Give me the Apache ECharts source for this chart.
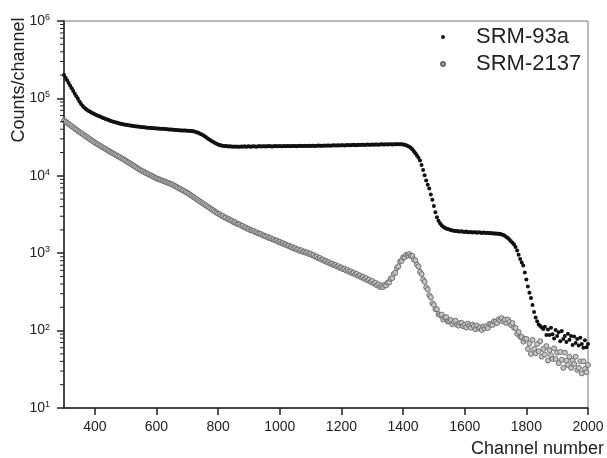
<!DOCTYPE html>
<html><head><meta charset="utf-8">
<script src="https://cdn.jsdelivr.net/npm/echarts@6/dist/echarts.min.js"></script>
<style>html,body{margin:0;padding:0;background:#fff}#c{width:607px;height:458px}</style>
</head><body><div id="c"></div>
<script>
const channelStart = 300, channelStep = 5;
const seriesNames = ['SRM-93a', 'SRM-2137'];
const srm93a = [
200000,185000,171000,158000,146000,135000,125000,115000,107000,98600,91200,85100,80400,76200,73300,71000,68900,67000,65300,63800,
62400,61100,59800,58600,57500,56400,55300,54300,53300,52400,51400,50700,50000,49300,48800,48200,47500,47000,46500,45900,
45500,45200,44900,44600,44300,44000,43700,43400,43200,42900,42700,42500,42300,42100,41900,41700,41600,41400,41200,41100,
40900,40800,40600,40500,40400,40200,40100,39900,39700,39600,39500,39300,39200,39000,38900,38700,38600,38600,38500,38400,
38300,38200,38000,37800,37600,37200,36600,35900,35200,34400,33700,32700,31600,30600,29700,28800,28000,27300,26600,25900,
25400,25000,24700,24400,24300,24200,24000,23900,24100,23800,23900,23700,23900,23800,23700,23900,23800,24000,23800,23900,
24000,23800,23900,24100,23900,23800,24000,24100,23900,24000,24100,23900,24000,24200,24000,23900,24100,24200,24000,24100,
24200,24000,24100,24300,24100,24200,24300,24100,24200,24300,24200,24100,24300,24400,24200,24300,24400,24200,24300,24500,
24300,24400,24500,24300,24400,24600,24500,24400,24500,24600,24500,24600,24700,24500,24600,24800,24600,24700,24800,24700,
24800,24900,24700,24800,25000,24900,24800,25000,25100,24900,25000,25100,25000,25200,25100,25000,25200,25300,25100,25200,
25300,25200,25400,25300,25200,25400,25500,25300,25400,25600,25400,25500,25600,25400,25500,25600,25500,25500,25500,25500,
25400,25100,24800,24300,23800,23000,22000,20800,19500,18300,17100,15800,13800,11900,10200,8710,7670,6840,5750,4900,
4070,3390,2920,2630,2430,2290,2200,2140,2090,2050,2020,1990,1960,1950,1930,1940,1910,1900,1920,1890,
1880,1900,1870,1860,1880,1850,1870,1860,1840,1860,1850,1830,1850,1840,1820,1840,1810,1830,1800,1810,
1790,1800,1770,1780,1750,1720,1680,1620,1570,1500,1430,1360,1300,1200,1080,955,841,759,692,562,
457,372,309,263,214,174,148,132,120,115,110,105,112,88,103,88,109,90,79,102,
85,95,73,99,78,85,71,91,76,85,65,84,69,78,64,81,67,60,75,61,
67];
const srm2137 = [
51900,50100,48400,46800,45200,43700,42200,40700,39400,38100,36900,35800,34700,33600,32500,31600,30500,29600,28600,27800,
26900,26200,25500,24800,24100,23400,22800,22200,21600,21000,20400,19900,19400,18900,18400,17900,17500,17000,16600,16100,
15700,15200,14800,14400,14000,13600,13200,12800,12400,12100,11700,11500,11200,10900,10700,10400,10200,9950,9720,9480,
9270,9100,8950,8790,8630,8470,8340,8180,8040,7910,7760,7570,7380,7190,7010,6840,6670,6500,6340,6180,
6030,5850,5660,5500,5320,5160,5000,4850,4700,4560,4420,4290,4150,4030,3900,3780,3660,3560,3440,3340,
3240,3190,3050,3030,2900,2890,2770,2760,2650,2630,2520,2510,2400,2390,2350,2260,2250,2160,2150,2070,
2060,1980,1970,1940,1870,1860,1800,1790,1760,1690,1690,1640,1630,1570,1570,1510,1510,1460,1460,1400,
1410,1350,1350,1300,1300,1250,1250,1200,1200,1150,1160,1110,1120,1070,1090,1040,1050,1010,1020,975,
985,940,945,900,905,860,868,825,830,790,795,758,765,728,735,700,708,672,680,646,
655,622,630,598,606,574,583,552,561,530,540,508,517,486,495,465,475,445,455,426,
436,405,415,385,395,366,382,366,390,383,418,420,470,478,540,560,648,675,780,795,
880,885,955,930,975,925,920,832,810,712,675,575,537,457,427,362,340,286,270,226,
215,189,189,163,158,161,139,148,149,131,132,137,121,129,134,119,116,125,126,114,
119,110,123,115,109,120,114,104,116,107,110,102,113,107,114,108,122,120,118,132,
130,125,140,135,145,131,138,125,139,129,118,125,109,108,91,96,83,83,72,78,
78,58,68,50,76,58,51,67,54,73,46,58,49,63,41,56,48,43,59,43,
52,38,53,42,33,52,41,36,46,33,41,37,46,31,33,40,28,40,32,29,
36];
const xTickValues = [400, 600, 800, 1000, 1200, 1400, 1600, 1800, 2000];
const yTickValues = [10, 100, 1000, 10000, 100000, 1000000];
const yMinorTicks = [20,30,40,50,60,70,80,90, 200,300,400,500,600,700,800,900,
  2000,3000,4000,5000,6000,7000,8000,9000, 20000,30000,40000,50000,60000,70000,80000,90000,
  200000,300000,400000,500000,600000,700000,800000,900000];

function pairs(vals) { return vals.map((v, i) => [channelStart + i * channelStep, v]); }
const FONT = 'Liberation Sans, Arial, Helvetica, sans-serif';
const AXIS_COLOR = '#222';

function minorTickSeries(name, data, len, width) {
  return {
    name: name, type: 'custom', data: data, clip: false, silent: true, z: 6,
    renderItem: function (params, api) {
      const p = api.coord([api.value(0), api.value(1)]);
      return {type: 'line', shape: {x1: p[0] - len, y1: p[1], x2: p[0], y2: p[1]},
              style: {stroke: AXIS_COLOR, lineWidth: width}};
    }
  };
}

const chart = echarts.init(document.getElementById('c'), null, {renderer: 'canvas'});
chart.setOption({
  animation: false,
  backgroundColor: '#fff',
  grid: {left: 64, right: 19, top: 21, bottom: 50, show: true, borderColor: '#777', borderWidth: 1, backgroundColor: 'transparent'},
  legend: {
    orient: 'vertical', left: 440, top: 26, padding: 0, itemWidth: 4, itemHeight: 4, itemGap: 5,
    data: seriesNames,
    textStyle: {fontFamily: FONT, fontSize: 22, lineHeight: 22, color: '#222', padding: [0, 0, 0, 26]}
  },
  xAxis: {
    type: 'value', min: 300, max: 2000,
    axisLine: {show: true, lineStyle: {color: AXIS_COLOR, width: 1.5}},
    axisTick: {show: true, length: 7, customValues: xTickValues, lineStyle: {color: AXIS_COLOR, width: 1.5}},
    axisLabel: {customValues: xTickValues, margin: 12, fontFamily: FONT, fontSize: 14, color: '#222', formatter: v => String(v)},
    splitLine: {show: false}
  },
  yAxis: {
    type: 'log', logBase: 10, min: 10, max: 1000000,
    axisLine: {show: true, lineStyle: {color: AXIS_COLOR, width: 1.5}},
    axisTick: {show: true, length: 7, lineStyle: {color: AXIS_COLOR, width: 1.5}},
    axisLabel: {
      customValues: yTickValues, margin: 14,
      formatter: v => '{b|10}{s|' + Math.round(Math.log10(v)) + '}',
      rich: {
        b: {fontFamily: FONT, fontSize: 14, lineHeight: 16, color: '#222', verticalAlign: 'middle'},
        s: {fontFamily: FONT, fontSize: 9, lineHeight: 10, color: '#222', verticalAlign: 'top'}
      }
    },
    splitLine: {show: false}
  },
  series: [{
    name: 'SRM-2137', type: 'scatter', data: pairs(srm2137), symbol: 'circle', symbolSize: 5, z: 2,
    itemStyle: {color: '#c4c4c4', borderColor: '#686868', borderWidth: 0.9, opacity: 1}
  }, {
    name: 'SRM-93a', type: 'scatter', data: pairs(srm93a), symbol: 'circle', symbolSize: 4, z: 3,
    itemStyle: {color: '#111', opacity: 1}
  },
    minorTickSeries('yMinorTicks', yMinorTicks.map(v => [300, v]), 4, 1)
  ],
  graphic: [{
    type: 'text', x: 604, y: 449,
    style: {text: 'Channel number', fontFamily: FONT, fontSize: 18, fill: '#222', align: 'right', verticalAlign: 'middle'}
  }, {
    type: 'text', x: 19, y: 80, rotation: Math.PI / 2,
    style: {text: 'Counts/channel', fontFamily: FONT, fontSize: 18, fill: '#222', align: 'center', verticalAlign: 'middle'}
  }]
});
</script></body></html>
